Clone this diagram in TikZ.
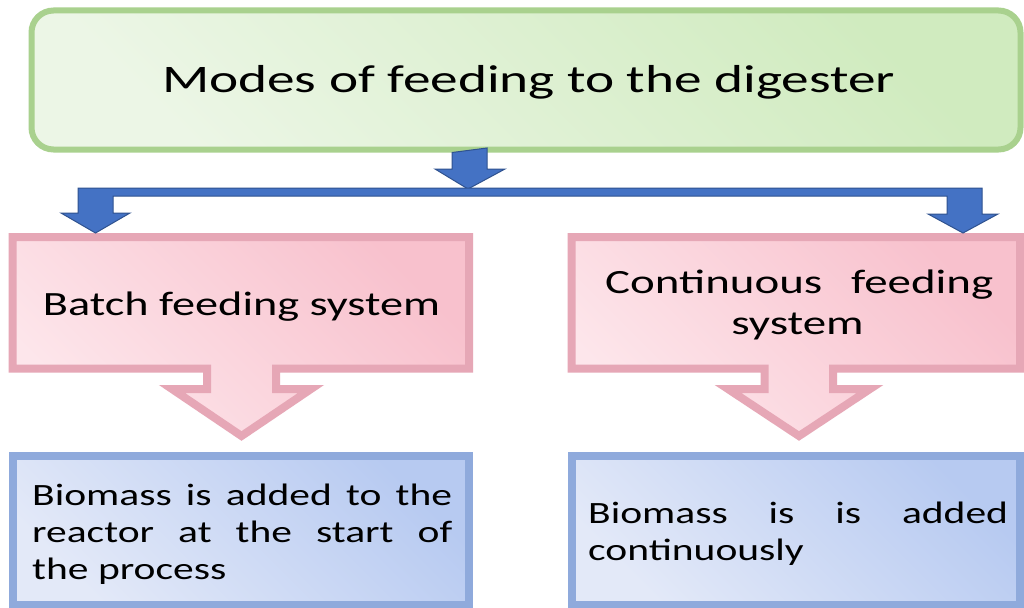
\documentclass[tikz,border=0pt]{standalone}
\usepackage{fontspec}
\setmainfont{Carlito}
\usepackage{graphicx}
\definecolor{grnB}{HTML}{A9D18E}
\definecolor{grnD}{HTML}{D0EBBF}
\definecolor{grnL}{HTML}{ECF6E6}
\definecolor{pnkB}{HTML}{E6A7B6}
\definecolor{pnkD}{HTML}{F8C1CD}
\definecolor{pnkL}{HTML}{FDE6EB}
\definecolor{bluB}{HTML}{8FAADC}
\definecolor{bluD}{HTML}{B7CAF1}
\definecolor{bluL}{HTML}{E3E9F8}
\definecolor{arrB}{HTML}{4472C4}
\definecolor{arrD}{HTML}{2F528F}
\begin{document}
\begin{tikzpicture}[x=1pt,y=-1pt,
  greenbox/.style={draw=grnB, line width=6pt, rounded corners=22pt, top color=grnD, bottom color=grnL, shading angle=-45, inner sep=0pt},
  pinkshape/.style={draw=pnkB, line width=8pt, top color=pnkD, bottom color=pnkL, shading angle=-45, line join=miter},
  bluebox/.style={draw=bluB, line width=8pt, top color=bluD, bottom color=bluL, shading angle=-45, inner sep=0pt},
  bluearrow/.style={fill=arrB, draw=arrD, line width=1pt, line join=miter},
  txt/.style={inner sep=0pt, text=black}]
\useasboundingbox (0,0) rectangle (1024,607);
\fill[white] (0,0) rectangle (1024,607);

% top box
\node[greenbox, minimum width=989pt, minimum height=139pt] (top) at (526,80) {};
\node[txt, anchor=base] (title) at (528.5,93) {\resizebox{733pt}{\height}{\fontsize{39}{45}\selectfont Modes of feeding to the digester}};

% pink callouts
\draw[pinkshape] (12.5,237) -- (469,237) -- (469,368.5) -- (276,368.5) -- (276,389) -- (311,389) -- (241.5,436) -- (172,389) -- (207,389) -- (207,368.5) -- (12.5,368.5) -- cycle;
\draw[pinkshape] (571.5,237) -- (1020,237) -- (1020,368.5) -- (833,368.5) -- (833,389) -- (870,389) -- (799,436) -- (728,389) -- (764.5,389) -- (764.5,368.5) -- (571.5,368.5) -- cycle;

\node[txt, anchor=base] (batch) at (241.5,315) {\resizebox{397pt}{\height}{\fontsize{34}{40}\selectfont Batch feeding system}};
\node[txt, anchor=base west] (cont1) at (605,293) {\scalebox{1.38}[1]{\fontsize{34}{40}\selectfont\makebox[281.2pt][s]{Continuous feeding}}};
\node[txt, anchor=base] (cont2) at (797.5,334) {\scalebox{1.38}[1]{\fontsize{34}{40}\selectfont system}};

% blue boxes
\node[bluebox, minimum width=456.5pt, minimum height=149.5pt] (lb) at (240.75,530.25) {};
\node[bluebox, minimum width=448.5pt, minimum height=149.5pt] (rb) at (795.75,530.25) {};
\node[txt, anchor=base west] (lbt) at (32,505) {\scalebox{1.34}[1]{\fontsize{31}{37}\selectfont\begin{tabular}[t]{@{}l@{}}\makebox[313.4pt][s]{Biomass is added to the}\\ \makebox[313.4pt][s]{reactor at the start of}\\ the process\end{tabular}}};
\node[txt, anchor=base west] (rbt) at (588,523) {\scalebox{1.34}[1]{\fontsize{31}{37}\selectfont\begin{tabular}[t]{@{}l@{}}\makebox[313.4pt][s]{Biomass is is added}\\ continuously\end{tabular}}};

% blue connector arrows
\coordinate (hub) at (468,189);
\draw[bluearrow] (top.south -| 452,0) -- (487,148) -- (487,169) -- (505,169) -- (hub) -- (435,169) -- (452,169) -- cycle;
\coordinate (ltip) at (95.5,233);
\coordinate (rtip) at (963,233);
\draw[bluearrow] (78,188) -- (982,188) -- (982,214) -- (998,214) -- (rtip) -- (928,214) -- (947,214) -- (947,196) -- (113,196) -- (113,213) -- (130,213) -- (ltip) -- (61,213) -- (78,213) -- cycle;
\end{tikzpicture}
\end{document}
